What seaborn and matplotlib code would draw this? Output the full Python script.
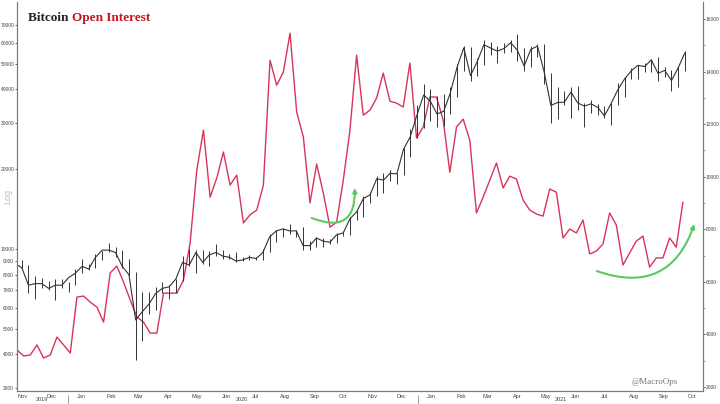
import pandas as pd
import numpy as np
import matplotlib.pyplot as plt
import matplotlib.dates as mdates
import matplotlib.ticker as mticker
import seaborn as sns

# weekly bitcoin price (usd), weeks starting monday 2019-11-04
btc_high = [9500, 9100, 8700, 7900, 7800, 7600, 7700, 7700, 7500,
            8400, 9200, 8800, 9600, 9800, 10500, 10200, 9900, 9200, 8200,
            6900, 6900, 7200, 7500, 7300, 7700, 9400, 10000, 9900, 9900,
            9800, 10400, 9950, 9600, 9700, 9300, 9450, 9350, 10000, 11400,
            11800, 12000, 12400, 11800, 12100, 10700, 11100, 11000, 10900, 11500,
            11700, 13200, 14000, 15900, 16400, 18900, 19400, 19900, 19400, 24000,
            28400, 34800,
            41900, 40000, 37800, 38500, 40900, 49700, 58300, 58000, 52600, 61600,
            60600, 58500, 60000, 61200, 64800, 57500, 58400, 59500, 59500, 46000,
            40800, 39500, 40900, 41300, 35700, 36600, 35100, 34600, 35400, 42300,
            44700, 48000, 49400, 50500, 52000, 52900, 48800, 47300, 48500, 55700]
btc_low = [8700, 8400, 6800, 6500, 7100, 7000, 6400, 7100, 6900,
           7300, 8100, 8300, 8500, 9100, 9700, 9300, 8500, 7900, 3800,
           4500, 5700, 5900, 6800, 6500, 6800, 7600, 8600, 8100, 8800,
           8600, 9400, 9200, 9200, 8900, 9000, 9100, 9100, 9100, 9700,
           10600, 11100, 11400, 11100, 9900, 9900, 10200, 10200, 10400, 10500,
           11200, 11300, 12900, 13200, 14900, 15800, 16200, 18000, 17600, 19000,
           22300, 26200,
           28500, 30500, 28900, 29200, 32300, 37600, 47000, 43000, 44900, 49300,
           54000, 50400, 54800, 55500, 51000, 47000, 48800, 53000, 42000, 30000,
           31000, 34800, 31100, 33400, 28800, 32700, 32100, 31100, 29300, 34900,
           37400, 43800, 43900, 46400, 46500, 43000, 44400, 39600, 40800, 46900]
btc_close = [8800, 8500, 7300, 7400, 7400, 7100, 7300, 7300, 7800,
             8100, 8600, 8400, 9300, 9900, 9900, 9700, 8600, 8000, 5400,
             5800, 6200, 6800, 7100, 7200, 7700, 8900, 8700, 9700, 8900,
             9500, 9700, 9400, 9300, 9000, 9100, 9300, 9200, 9700, 11100,
             11700, 11900, 11700, 11700, 10300, 10300, 11000, 10700, 10600, 11300,
             11500, 13000, 13800, 15500, 16000, 18400, 18200, 19300, 19200, 23800,
             26500, 32000,
             38100, 36100, 32300, 33100, 38900, 48600, 57400, 45100, 50900, 59000,
             57300, 55800, 57100, 60000, 56200, 49000, 56600, 58300, 46500, 34800,
             35700, 35800, 39100, 35600, 34600, 35300, 34200, 31800, 35400, 39900,
             43800, 47000, 49300, 48800, 51700, 46000, 47200, 43200, 48200, 54900]

# open interest (usd m), about weekly, right axis
open_interest = [3410, 3180, 3220, 3600, 3100, 3220, 3900, 3600, 3290, 5420,
                 5460, 5230, 5040, 4470, 6340, 6600, 5990, 5310, 4660, 4470,
                 4050, 4050, 5570, 5570, 5570, 6070, 7480, 10250, 11770, 9220,
                 9950, 10940, 9680, 10060, 8240, 8550,
                 8730, 9680, 14430, 13480, 13980, 15460, 12460, 11510, 9000, 10480,
                 9380, 8080, 8270, 9870, 11770, 14620, 12340, 12530, 12990, 13940,
                 12870, 12800, 12650, 14320, 11470,
                 11890, 13030, 13030, 12150, 10170, 11890, 12190, 11390, 8620, 9220,
                 9870, 10520, 9570, 10020, 9910, 9110, 8730, 8580, 8500, 9530,
                 9410, 7670, 8010, 7860, 8350, 7060, 7170, 7440, 8620, 8160,
                 6640, 7100, 7550, 7740, 6560, 6910, 6910, 7670, 7320, 9030]

left_ticks = [3000, 4000, 5000, 6000, 7000, 8000, 9000, 10000,
              20000, 30000, 40000, 50000, 60000, 70000]
right_ticks = [2000, 4000, 6000, 8000, 10000, 12000, 14000, 16000]

sns.set_style("white")
plt.rcParams['font.family'] = ['Liberation Sans', 'DejaVu Sans']

weeks = pd.date_range("2019-11-04", periods=len(btc_close), freq="7D") + pd.Timedelta(days=3)
price = pd.DataFrame({"date": weeks, "high": btc_high, "low": btc_low, "close": btc_close})
oi = pd.DataFrame({"date": pd.date_range("2019-11-09", "2021-10-05", periods=len(open_interest)),
                   "oi": open_interest})

fig = plt.figure(figsize=(7.2, 4.04), dpi=100)
ax = fig.add_axes([17/720, 13/404, 686/720, 389/404])
ax2 = ax.twinx()

red = "#d8345a"
green = "#5cc860"
grey = "#7a7a7a"

sns.lineplot(data=oi, x="date", y="oi", ax=ax2, color=red, lw=1.0)

ax.vlines(price["date"], price["low"], price["high"], color="#333333", lw=0.7)
sns.lineplot(data=price, x="date", y="close", ax=ax, color="#333333", lw=0.8)
ax.set_zorder(ax2.get_zorder() + 1)
ax.patch.set_visible(False)

ax.set_yscale("log")
ax.set_ylim(2911, 85500)
ax2.set_ylim(1848, 16645)
ax.set_xlim(pd.Timestamp("2019-11-09"), pd.Timestamp("2021-10-26"))

ax.yaxis.set_major_locator(mticker.FixedLocator(left_ticks))
ax.yaxis.set_minor_locator(mticker.NullLocator())
ax.yaxis.set_major_formatter(mticker.FuncFormatter(lambda v, p: f"{int(v)}"))
ax2.yaxis.set_major_locator(mticker.FixedLocator(right_ticks))
ax2.yaxis.set_minor_locator(mticker.MultipleLocator(1000))
ax2.yaxis.set_major_formatter(mticker.FuncFormatter(lambda v, p: f"{int(v)}"))

ax.xaxis.set_major_locator(mdates.MonthLocator(bymonthday=15))
ax.xaxis.set_major_formatter(mdates.DateFormatter("%b"))
ax.xaxis.set_minor_locator(mdates.MonthLocator())

for a in (ax, ax2):
    a.set_xlabel("")
    a.set_ylabel("")
    a.spines["top"].set_visible(False)
    for s in ("left", "right", "bottom"):
        a.spines[s].set_color(grey)
        a.spines[s].set_linewidth(0.8)
    a.tick_params(axis="y", which="major", labelsize=3.5, length=1.5, width=0.6,
                  pad=0.5, colors="#444444", direction="out")
    a.tick_params(axis="y", which="minor", length=1.2, width=0.5, colors=grey)
ax.tick_params(axis="x", which="major", labelsize=4, length=0, pad=2.5, colors="#444444")
ax.tick_params(axis="x", which="minor", length=2, width=0.5, colors=grey)
ax.grid(False)
ax2.grid(False)

# year labels and separators under the month labels
xt = ax.get_xaxis_transform()
for label, d in [("2019", "2019-12-05"), ("2020", "2020-07-01"), ("2021", "2021-05-30")]:
    ax.text(pd.Timestamp(d), -0.023, label, transform=xt, ha="center", va="center",
            fontsize=4, color="#444444")
for d in ["2020-01-01", "2021-01-01"]:
    ax.plot([pd.Timestamp(d)] * 2, [-0.01, -0.035], transform=xt, clip_on=False,
            color=grey, lw=0.5)

# green arrows
arrows = [("2020-09-12", 8430, "2020-10-27", 9570, 0.75),
          ("2021-07-07", 6410, "2021-10-17", 8200, 0.5)]
for d0, v0, d1, v1, rad in arrows:
    ax2.annotate("", xy=(mdates.date2num(pd.Timestamp(d1)), v1),
                 xytext=(mdates.date2num(pd.Timestamp(d0)), v0),
                 arrowprops=dict(arrowstyle="-|>", color=green, lw=1.5,
                                 mutation_scale=6, shrinkA=0, shrinkB=0,
                                 connectionstyle=f"arc3,rad={rad}"))

# title in two colours
t1 = fig.text(28/720, 1 - 21/404, "Bitcoin ", fontsize=9.5, fontweight="bold",
              family="Liberation Serif", color="#222222", va="baseline")
ax.annotate("Open Interest", xy=(1, 0), xycoords=t1, va="bottom", fontsize=9.5,
            fontweight="bold", family="Liberation Serif", color="#c8141e")

fig.text(8/720, 1 - 196/404, "Log", rotation=90, ha="center", va="center",
         fontsize=6.5, color="#bbbbbb")
fig.text(655/720, 1 - 382/404, "@MacroOps", ha="center", va="center",
         fontsize=6.5, family="Liberation Serif", color="#777777")

fig.savefig("out.png", dpi=100)
